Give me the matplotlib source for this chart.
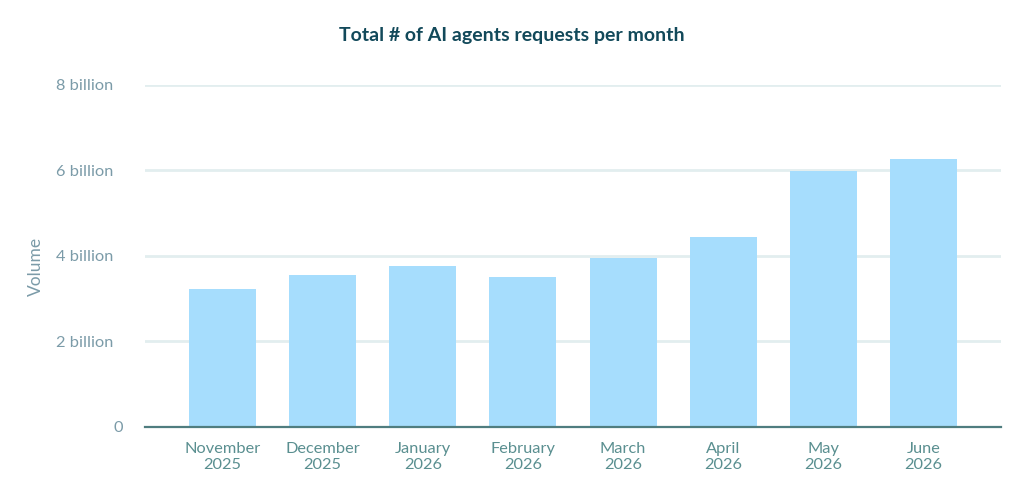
import matplotlib
matplotlib.use("Agg")
from matplotlib import pyplot as plt
from matplotlib.transforms import ScaledTranslation

months = ["November\n2025", "December\n2025", "January\n2026", "February\n2026",
          "March\n2026", "April\n2026", "May\n2026", "June\n2026"]
requests_bn = [3.23, 3.56, 3.77, 3.51, 3.95, 4.44, 5.98, 6.26]
y_ticks = [0, 2, 4, 6, 8]
y_tick_labels = ["0", "2 billion", "4 billion", "6 billion", "8 billion"]

plt.rcParams['font.family'] = ['Lato', 'DejaVu Sans']

W, H = 1024, 493
fig = plt.figure(figsize=(W / 100, H / 100), dpi=100)
# axes box in pixels: left 145, right 1001, top 84.5, bottom 427
ax = fig.add_axes([145 / W, (H - 427) / H, (1001 - 145) / W, (427 - 84.5) / H])

x = list(range(len(months)))
ax.bar(x, requests_bn, width=0.67, color="#a6ddfd", zorder=2)

ax.set_xlim(-0.775, len(months) - 1 + 0.775)
ax.set_ylim(0, 8)
ax.set_yticks(y_ticks)
ax.set_yticklabels(y_tick_labels)
ax.set_xticks(x)
ax.set_xticklabels(months, linespacing=1.2)

ax.grid(axis="y", color="#e2eeef", linewidth=2, zorder=0)
ax.set_axisbelow(True)
for side in ["top", "right", "left"]:
    ax.spines[side].set_visible(False)
ax.spines["bottom"].set_color("#4f7d7f")
ax.spines["bottom"].set_linewidth(1.6)
ax.spines["bottom"].set_zorder(3)

ax.tick_params(axis="y", length=0, pad=23, labelsize=11.8, labelcolor="#7b9ba8")
ax.tick_params(axis="x", length=0, pad=11, labelsize=11.8, labelcolor="#5a8f90")

# the "0" label sits a bit further right in the original
zero_lbl = ax.get_yticklabels()[0]
zero_lbl.set_transform(zero_lbl.get_transform() + ScaledTranslation(0.1, 0, fig.dpi_scale_trans))

ax.set_ylabel("Volume", fontsize=12.5, color="#7b9ba8")
ax.yaxis.set_label_coords(-0.118, 0.47)

fig.text(0.5, (H - 35) / H, "Total # of AI agents requests per month",
         ha="center", va="center", fontsize=14, fontweight="bold", color="#12495a")

fig.savefig("out.png", dpi=100, facecolor="white")
